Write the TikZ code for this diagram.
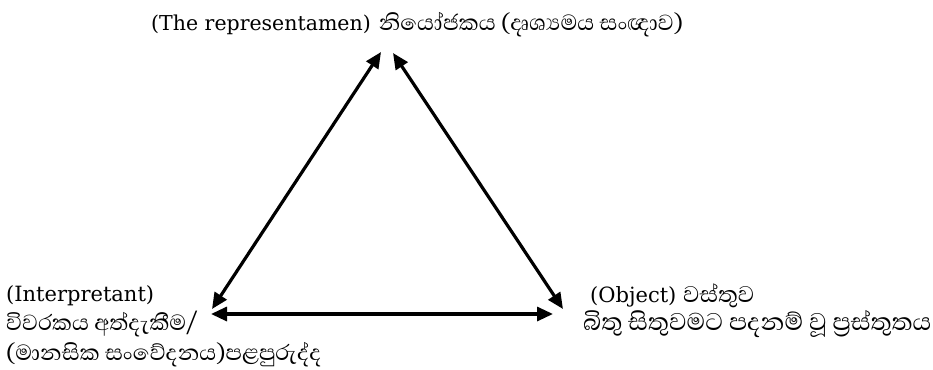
\documentclass[tikz,border=0pt]{standalone}
\usepackage{fontspec}
\setmainfont{DejaVu Serif}
\newfontfamily\sinfont[Script=Sinhala]{Abhaya Libre}
\usetikzlibrary{arrows.meta}

\tikzset{
  dbl/.style={{Triangle[length=16pt,width=14pt]}-{Triangle[length=16pt,width=14pt]}, line width=3.2pt},
  lbl/.style={anchor=base west, inner sep=0pt}
}

\begin{document}
\begin{tikzpicture}[x=1pt,y=-1pt]
    \useasboundingbox (0,0) rectangle (933,369);
    % corners of the triangle
    \coordinate (reprL) at (381,52);
    \coordinate (reprR) at (393,53);
    \coordinate (interpT) at (212,309);
    \coordinate (interpB) at (211,314);
    \coordinate (objT) at (563,309);
    \coordinate (objB) at (553,314);
    \draw[dbl] (reprL) to (interpT);
    \draw[dbl] (reprR) to (objT);
    \draw[dbl] (interpB) to (objB);
    % labels
    \node[lbl] (repr) at (151,31){\fontsize{20.5}{22}\selectfont(The representamen)\hspace{8pt}\sinfont\fontsize{28}{30}\selectfont නියෝජකය \fontsize{28}{30}\selectfont(දෘශ්‍යමය සංඥාව)};
    \node[lbl] (interpA) at (6,301){\fontsize{21}{24}\selectfont(Interpretant)};
    \node[lbl] (interpB) at (6,330){\sinfont\fontsize{28}{30}\selectfont විවරකය අත්දැකීම/};
    \node[lbl] (interpC) at (6,360){\sinfont\fontsize{28}{30}\selectfont (මානසික සංවේදනය)පළපුරුද්ද};
    \node[lbl] (objA) at (590,302){\fontsize{21}{24}\selectfont(Object) \sinfont\fontsize{29}{30}\selectfont වස්තුව};
    \node[lbl] (objB) at (583,330){\sinfont\fontsize{31}{30}\selectfont බිතු සිතුවමට පදනම් වූ ප්‍රස්තුතය};
\end{tikzpicture}
\end{document}
